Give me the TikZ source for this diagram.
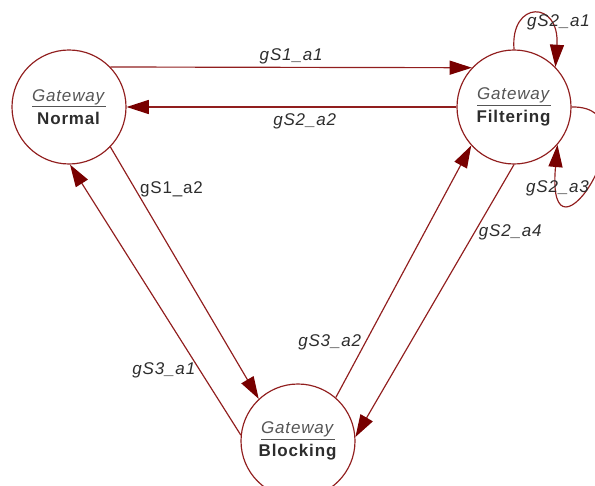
\documentclass[tikz,border=0pt]{standalone}
\usepackage{fontspec}
\setmainfont{Liberation Sans}[LetterSpace=5]
\usetikzlibrary{arrows.meta}
\definecolor{linered}{RGB}{145,30,30}
\definecolor{headred}{RGB}{120,0,0}
\definecolor{txtgray}{RGB}{45,45,45}
\definecolor{gwgray}{RGB}{85,85,85}
\newcommand{\gw}[1]{\textcolor{gwgray}{\underline{\textit{Gateway}}}\\ \textbf{#1}}

\begin{document}
\begin{tikzpicture}[x=0.03cm, y=-0.03cm,
  main/.style = {draw=linered, circle, line width=1pt, minimum size=3.42cm, inner sep=0pt, align=center, text=txtgray, font=\fontsize{14.5}{19.5}\selectfont},
  trans/.style = {draw=linered, line width=1pt, -{Triangle[length=19pt, width=12pt, color=headred]}},
  lbl/.style = {text=txtgray, font=\fontsize{14.5}{16}\selectfont\itshape},
  lblup/.style = {text=txtgray, font=\fontsize{14.5}{16}\selectfont}]
\useasboundingbox (0,0) rectangle (595,486);
\clip (0,0) rectangle (595,486);

\node[main] (1) at (69,107) {\gw{Normal}};
\node[main] (2) at (514,107) {\gw{Filtering}};
\node[main] (3) at (298,441) {\gw{Blocking}};

\draw[trans] (1.44) -- node[lbl, above=-1pt] {gS1\_a1} (2.137);
\draw[trans] (2.180) -- node[lbl, below=2pt, pos=0.46] {gS2\_a2} (1.0);
\draw[trans] (1.-44) -- node[lblup, right, pos=0.17] {gS1\_a2} (3.133);
\draw[trans] (3.174) -- node[lbl, left, pos=0.24] {gS3\_a1} (1.-89);
\draw[trans] (3.49) -- node[lbl, left, pos=0.22] {gS3\_a2} (2.222);
\draw[trans] (2.-90) -- node[lbl, right, pos=0.25] {gS2\_a4} (3.4);

% loops on Filtering
\draw[trans] (2.90) .. controls (510,0) and (560,0) .. (2.44);
\node[lbl, anchor=west] (a1) at (523,22) {gS2\_a1};
\draw[trans] (2.0) .. controls (660,105) and (545,285) .. (2.-41);
\node[lbl, anchor=west] (a3) at (522,188) {gS2\_a3};
\end{tikzpicture}
\end{document}
